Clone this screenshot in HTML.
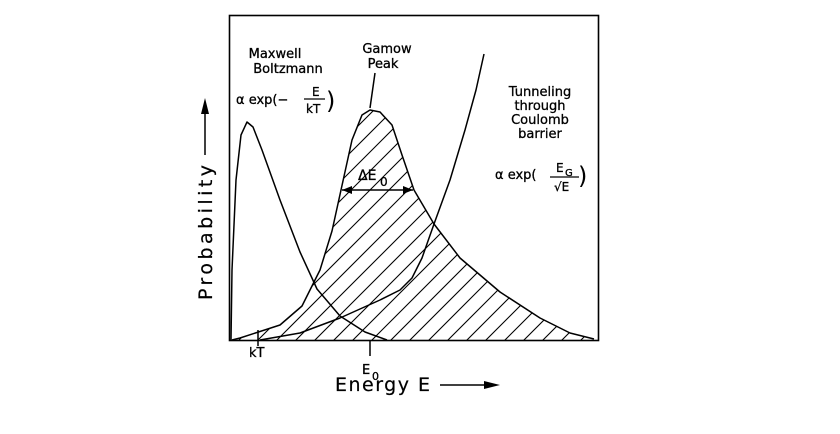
<!DOCTYPE html>
<html><head><meta charset="utf-8"><style>
html,body{margin:0;padding:0;background:#fff;}
svg{display:block;font-family:"DejaVu Sans","Liberation Sans",sans-serif;}
</style></head><body>
<svg width="840" height="434" viewBox="0 0 840 434" xmlns="http://www.w3.org/2000/svg">
<defs>
<clipPath id="g"><polygon points="232,340 240,338 280,325 302,306 320,270 332,231 341,190 352,140 362,115 370,110 380,112 392,125 402,155 414,190 434,224 460,258 500,292 540,318 570,333 594,339 594,340"/></clipPath>
</defs>
<rect x="229.5" y="15.5" width="369" height="325" fill="none" stroke="#000" stroke-width="1.6"/>
<g clip-path="url(#g)" stroke="#000" stroke-width="1.1">
<path d="M200,360 L500,60 M219,360 L519,60 M238,360 L538,60 M257,360 L557,60 M276,360 L576,60 M295,360 L595,60 M314,360 L614,60 M333,360 L633,60 M352,360 L652,60 M371,360 L671,60 M390,360 L690,60 M409,360 L709,60 M428,360 L728,60 M447,360 L747,60 M466,360 L766,60 M485,360 L785,60 M504,360 L804,60 M523,360 L823,60 M542,360 L842,60 M561,360 L861,60 M580,360 L880,60 M181,360 L481,60 M162,360 L462,60 M143,360 L443,60 M124,360 L424,60 M105,360 L405,60"/>
</g>
<g fill="none" stroke="#000" stroke-width="1.5" stroke-linejoin="round">
<polyline points="232,340 240,338 280,325 302,306 320,270 332,231 341,190 352,140 362,115 370,110 380,112 392,125 402,155 414,190 434,224 460,258 500,292 540,318 570,333 594,339"/>
<polyline points="231,340 232,270 236,180 241,135 247,122 253,127 262,150 280,200 300,252 317,289 340,316 365,332 387,340"/>
<polyline points="260,340 300,333 340,318 380,300 400,290 412,278 422,258 434,224 450,180 465,130 476,90 484,54"/>
<line x1="375" y1="73" x2="370" y2="108"/>
<line x1="342" y1="190" x2="413" y2="190"/>
<line x1="258" y1="330" x2="258" y2="346"/>
<line x1="370" y1="340" x2="370" y2="356"/>
</g>
<polygon points="342,190 352,186 352,194" fill="#000"/>
<polygon points="413,190 403,186 403,194" fill="#000"/>
<g font-size="13" fill="#000" stroke="#000" stroke-width="0.3">
<text x="275" y="58" text-anchor="middle">Maxwell</text>
<text x="288" y="73" text-anchor="middle">Boltzmann</text>
<text x="236" y="104">α  exp(−</text>
<text x="312" y="96" font-size="12">E</text>
<line x1="304" y1="99" x2="325" y2="99" stroke="#000" stroke-width="1.2"/>
<text x="306" y="113" font-size="12">kT</text>
<text x="326" y="109" font-size="24" stroke-width="0">)</text>
<text x="387" y="53" text-anchor="middle">Gamow</text>
<text x="383" y="68" text-anchor="middle">Peak</text>
<text x="540" y="96" text-anchor="middle">Tunneling</text>
<text x="540" y="110" text-anchor="middle">through</text>
<text x="540" y="124" text-anchor="middle">Coulomb</text>
<text x="540" y="138" text-anchor="middle">barrier</text>
<text x="495" y="179">α  exp(</text>
<text x="556" y="172" font-size="12">E</text><text x="565" y="176" font-size="10">G</text>
<line x1="550" y1="177" x2="579" y2="177" stroke="#000" stroke-width="1.2"/>
<text x="554" y="191" font-size="12">√E</text>
<text x="578" y="184" font-size="24" stroke-width="0">)</text>
<text x="358" y="180" font-size="14">ΔE</text><text x="380" y="186" font-size="12">0</text>
<text x="249" y="357">kT</text>
<text x="362" y="374">E</text><text x="372" y="380" font-size="11">0</text>
<text x="335" y="391" font-size="19" stroke-width="0.2" textLength="95" lengthAdjust="spacing">Energy E</text>
<text transform="translate(212,300) rotate(-90)" font-size="19" stroke-width="0.2" textLength="135" lengthAdjust="spacing">Probability</text>
</g>
<line x1="440" y1="385" x2="488" y2="385" stroke="#000" stroke-width="1.5"/>
<polygon points="500,385 484,381 484,389" fill="#000"/>
<line x1="205" y1="155" x2="205" y2="112" stroke="#000" stroke-width="1.5"/>
<polygon points="205,98 201,114 209,114" fill="#000"/>
</svg>
</body></html>
